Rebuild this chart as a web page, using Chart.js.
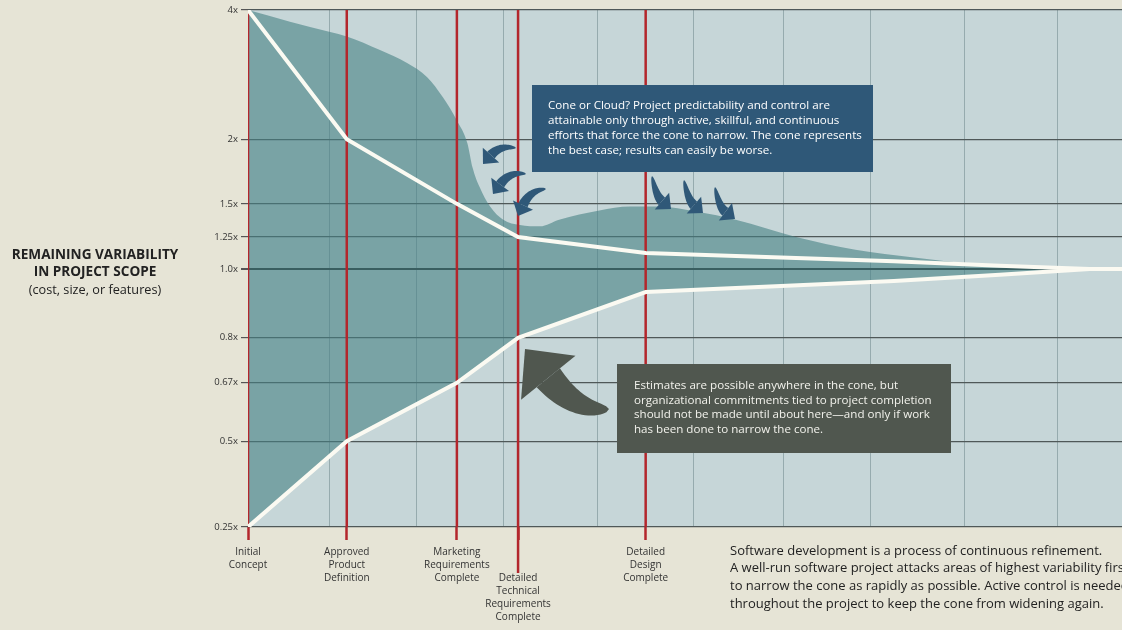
<!DOCTYPE html>
<html>
<head>
<meta charset="utf-8">
<script src="https://cdn.jsdelivr.net/npm/chart.js@4.4.1/dist/chart.umd.min.js"></script>
<style>
  html, body { margin: 0; padding: 0; background: #e6e4d6; }
  #wrap { width: 1122px; height: 630px; }
</style>
</head>
<body>
<div id="wrap"><canvas id="chart" width="1122" height="630"></canvas></div>
<script>
// project timeline, x in % of schedule
const milestoneX = [0, 11.3, 23.9, 30.9, 45.5];
const milestoneLabels = [
  ["Initial", "Concept"],
  ["Approved", "Product", "Definition"],
  ["Marketing", "Requirements", "Complete"],
  ["", "", "Detailed", "Technical", "Requirements", "Complete"],
  ["Detailed", "Design", "Complete"],
];
const gridX = [9.3, 19.3, 29.2, 40.0, 51.0, 61.3, 71.2, 82.0, 92.6];

// remaining variability (multiplier)
const yTicks = [4, 2, 1.5, 1.25, 1.0, 0.8, 0.67, 0.5, 0.25];
const yTickLabels = ["4x", "2x", "1.5x", "1.25x", "1.0x", "0.8x", "0.67x", "0.5x", "0.25x"];

// cone of uncertainty (best case)
const coneX = [0, 11.3, 23.9, 30.9, 45.5, 73.9, 86.0, 96.3, 100];
const coneUpper = [4, 2, 1.5, 1.25, 1.125, 1.06, 1.025, 1.0, 1.0];
const coneLower = [0.25, 0.5, 0.67, 0.8, 0.933, 0.965, 0.983, 1.0, 1.0];

// cloud of uncertainty, upper edge
const cloudX = [0, 4.8, 9.4, 11.3, 15.1, 18.2, 20.5, 22.3, 23.9, 25.1, 25.7, 26.5, 27.7, 29.2,
  31.1, 33.4, 35.6, 40.2, 43.7, 46.9, 51.4, 55.8, 62.7, 69.5, 76.2, 83.0, 89.7, 96.3];
const cloudUpper = [4, 3.82, 3.66, 3.59, 3.38, 3.18, 2.96, 2.65, 2.29, 1.97, 1.78, 1.63, 1.48, 1.38,
  1.34, 1.33, 1.38, 1.45, 1.48, 1.48, 1.44, 1.38, 1.25, 1.15, 1.09, 1.04, 1.01, 1.0];

// where each y tick sits along the axis (0 = bottom, 1 = top) - the drawing is not a true log scale
const axisStops = [[0.25, 0], [0.5, 0.166], [0.67, 0.279], [0.8, 0.366], [1.0, 0.499],
  [1.25, 0.561], [1.5, 0.625], [2, 0.75], [4, 1]];

const FONT = "'Open Sans', sans-serif";
Chart.defaults.font.family = FONT;

class StopScale extends Chart.LinearScale {
  buildTicks() {
    this.start = this.min;
    this.end = this.max;
    return yTicks.map(v => ({ value: v }));
  }
  toDecimal(v) {
    const s = axisStops;
    let i = 1;
    while (i < s.length - 1 && v > s[i][0]) i++;
    const [v0, f0] = s[i - 1], [v1, f1] = s[i];
    return f0 + (v - v0) / (v1 - v0) * (f1 - f0);
  }
  getPixelForValue(v) {
    if (v === null || v === undefined || isNaN(v)) return NaN;
    return this.getPixelForDecimal(this.toDecimal(v));
  }
  getValueForPixel(p) {
    const d = this.getDecimalForPixel(p);
    const s = axisStops;
    let i = 1;
    while (i < s.length - 1 && d > s[i][1]) i++;
    const [v0, f0] = s[i - 1], [v1, f1] = s[i];
    return v0 + (d - f0) / (f1 - f0) * (v1 - v0);
  }
}
StopScale.id = "stops";
StopScale.defaults = {};
Chart.register(StopScale);

const pts = (xs, ys) => xs.map((x, i) => ({ x: x, y: ys[i] }));

const redLine = [];
milestoneX.forEach(m => {
  redLine.push({ x: m, y: 0.25 }, { x: m, y: 4 }, { x: m, y: null });
});

function curvedArrow(ctx, tail, ctrl, tip, len, half, w) {
  const dx = tip[0] - ctrl[0], dy = tip[1] - ctrl[1], d = Math.hypot(dx, dy);
  const ux = dx / d, uy = dy / d;
  const base = [tip[0] - ux * len, tip[1] - uy * len];
  const left = [], right = [];
  for (let i = 0; i <= 24; i++) {
    const t = i / 24, mt = 1 - t;
    const px = mt * mt * tail[0] + 2 * mt * t * ctrl[0] + t * t * base[0];
    const py = mt * mt * tail[1] + 2 * mt * t * ctrl[1] + t * t * base[1];
    const tx = 2 * mt * (ctrl[0] - tail[0]) + 2 * t * (base[0] - ctrl[0]);
    const ty = 2 * mt * (ctrl[1] - tail[1]) + 2 * t * (base[1] - ctrl[1]);
    const tl = Math.hypot(tx, ty) || 1;
    const hw = w / 2 * Math.pow(t, 0.5);
    left.push([px - ty / tl * hw, py + tx / tl * hw]);
    right.push([px + ty / tl * hw, py - tx / tl * hw]);
  }
  ctx.beginPath();
  left.forEach((p, i) => (i ? ctx.lineTo(p[0], p[1]) : ctx.moveTo(p[0], p[1])));
  for (let i = right.length - 1; i >= 0; i--) ctx.lineTo(right[i][0], right[i][1]);
  ctx.closePath();
  ctx.fill();
  ctx.beginPath();
  ctx.moveTo(tip[0], tip[1]);
  ctx.lineTo(base[0] - uy * half, base[1] + ux * half);
  ctx.lineTo(base[0] + uy * half, base[1] - ux * half);
  ctx.closePath();
  ctx.fill();
}

function textBlock(ctx, lines, x, y, step) {
  lines.forEach((l, i) => ctx.fillText(l, x, y + i * step));
}

const decor = {
  id: "decor",
  beforeDraw(chart) {
    const { ctx, chartArea: a } = chart;
    ctx.save();
    ctx.fillStyle = "#e6e4d6";
    ctx.fillRect(0, 0, chart.width, chart.height);
    ctx.fillStyle = "#c6d6d8";
    ctx.fillRect(a.left, a.top, a.right - a.left, a.bottom - a.top);
    ctx.restore();
  },
  afterDraw(chart) {
    const { ctx, chartArea: a } = chart;
    const xs = chart.scales.x;
    ctx.save();

    // long tick under "Detailed Technical Requirements Complete"
    ctx.strokeStyle = "#b3262c";
    ctx.lineWidth = 2.5;
    ctx.beginPath();
    const tx = xs.getPixelForValue(milestoneX[3]);
    ctx.moveTo(tx, a.bottom);
    ctx.lineTo(tx, a.bottom + 46);
    ctx.stroke();

    // blue arrows
    ctx.fillStyle = "#2f5878";
    curvedArrow(ctx, [516, 148], [500, 145], [483, 164], 12, 11, 10);
    curvedArrow(ctx, [526, 174], [510, 171], [493, 194], 12, 11, 10);
    curvedArrow(ctx, [546, 189], [530, 190], [518, 216], 12, 11, 10);
    curvedArrow(ctx, [652, 176], [656, 196], [671, 209], 12, 11, 10);
    curvedArrow(ctx, [684, 180], [688, 200], [703, 213], 12, 11, 10);
    curvedArrow(ctx, [715, 187], [719, 207], [735, 219], 12, 11, 10);

    // big arrow
    ctx.fillStyle = "#50574f";
    curvedArrow(ctx, [609, 409], [576, 412], [525, 349], 37, 35, 30);

    // blue note
    ctx.fillStyle = "#2f5878";
    ctx.fillRect(532, 85, 341, 87);
    ctx.fillStyle = "#ffffff";
    ctx.font = "11.6px " + FONT;
    ctx.textBaseline = "middle";
    ctx.textAlign = "left";
    textBlock(ctx, [
      "Cone or Cloud? Project predictability and control are",
      "attainable only through active, skillful, and continuous",
      "efforts that force the cone to narrow. The cone represents",
      "the best case; results can easily be worse.",
    ], 548, 106, 14.8);

    // gray note
    ctx.fillStyle = "#50574f";
    ctx.fillRect(617, 364, 334, 89);
    ctx.fillStyle = "#f2f2ec";
    textBlock(ctx, [
      "Estimates are possible anywhere in the cone, but",
      "organizational commitments tied to project completion",
      "should not be made until about here\u2014and only if work",
      "has been done to narrow the cone.",
    ], 634, 386, 14.4);

    // axis title
    ctx.fillStyle = "#222";
    ctx.textAlign = "center";
    ctx.font = "bold 13.6px " + FONT;
    ctx.fillText("REMAINING VARIABILITY", 95, 255);
    ctx.fillText("IN PROJECT SCOPE", 95, 272);
    ctx.font = "12.7px " + FONT;
    ctx.fillText("(cost, size, or features)", 95, 290);

    // caption
    ctx.textAlign = "left";
    ctx.font = "13px " + FONT;
    textBlock(ctx, [
      "Software development is a process of continuous refinement.",
      "A well-run software project attacks areas of highest variability first",
      "to narrow the cone as rapidly as possible. Active control is needed",
      "throughout the project to keep the cone from widening again.",
    ], 730, 551, 17.6);
    ctx.restore();
  },
};

const ctx = document.getElementById("chart").getContext("2d");
const chart = new Chart(ctx, {
  type: "line",
  data: {
    datasets: [
      {
        label: "Cloud",
        data: pts(cloudX, cloudUpper),
        borderWidth: 0,
        pointRadius: 0,
        cubicInterpolationMode: "monotone",
        backgroundColor: "rgba(70, 128, 132, 0.6)",
        fill: { target: 3 },
        order: 4,
      },
      {
        label: "Milestones",
        data: redLine,
        borderColor: "#b3262c",
        borderWidth: 2.5,
        pointRadius: 0,
        spanGaps: false,
        fill: false,
        order: 3,
      },
      {
        label: "Cone upper",
        data: pts(coneX, coneUpper),
        borderColor: "#fbfaf2",
        borderWidth: 4,
        pointRadius: 0,
        tension: 0,
        fill: false,
        order: 1,
      },
      {
        label: "Cone lower",
        data: pts(coneX, coneLower),
        borderColor: "#fbfaf2",
        borderWidth: 4,
        pointRadius: 0,
        tension: 0,
        fill: false,
        order: 1,
      },
    ],
  },
  options: {
    responsive: false,
    animation: false,
    layout: { padding: { top: 10, right: 0, bottom: 0, left: 0 } },
    plugins: { legend: { display: false }, tooltip: { enabled: false } },
    scales: {
      x: {
        type: "linear",
        min: 0,
        max: 100,
        afterBuildTicks: axis => {
          axis.ticks = milestoneX.concat(gridX).sort((p, q) => p - q).map(v => ({ value: v }));
        },
        afterFit: s => { s.height = 103; },
        border: { display: false },
        grid: {
          color: c => (milestoneX.includes(c.tick.value) ? "rgba(0,0,0,0)" : "rgba(90,120,124,0.45)"),
          lineWidth: 1,
          tickLength: 13,
          tickColor: c => (milestoneX.includes(c.tick.value) ? "#b3262c" : "rgba(0,0,0,0)"),
          tickWidth: 2.5,
        },
        ticks: {
          autoSkip: false,
          maxRotation: 0,
          padding: 6,
          color: "#333",
          font: { size: 10, lineHeight: 1.3 },
          callback: v => {
            const i = milestoneX.indexOf(v);
            return i >= 0 ? milestoneLabels[i] : "";
          },
        },
      },
      y: {
        type: "stops",
        min: 0.25,
        max: 4,
        afterFit: s => { s.width = 248; },
        border: { display: false },
        grid: {
          color: c => (c.tick.value === 1 ? "#262b2b" : "#4f5858"),
          lineWidth: c => (c.tick.value === 1 ? 2 : 1.2),
          tickLength: 7,
          tickColor: "#555",
        },
        ticks: {
          autoSkip: false,
          padding: 3,
          color: "#333",
          font: { size: 9.5 },
          callback: (v, i) => yTickLabels[i],
        },
      },
    },
  },
  plugins: [decor],
});
</script>
</body>
</html>
